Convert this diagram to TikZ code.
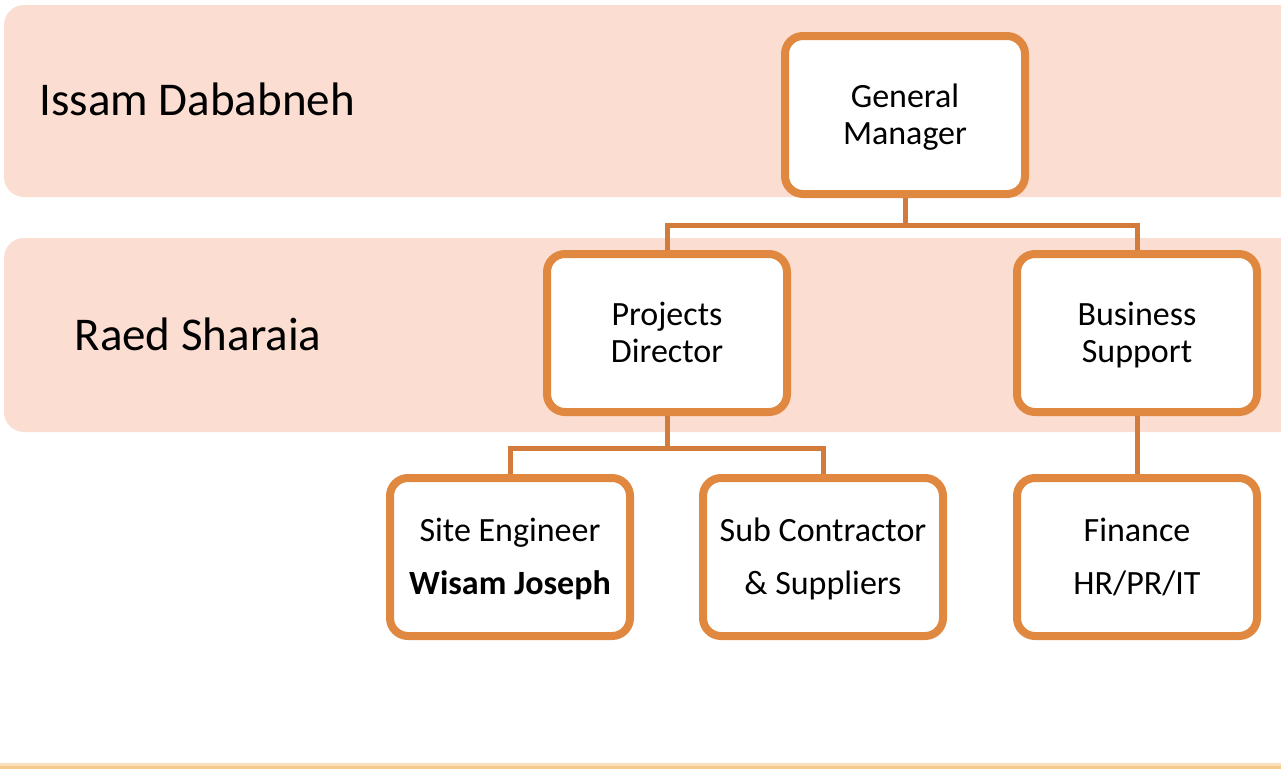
\documentclass[tikz,border=0pt]{standalone}
\usepackage{fontspec}
\setmainfont{Carlito}
\usetikzlibrary{positioning, shadows}
\definecolor{band}{HTML}{FCDDD2}
\definecolor{edge}{HTML}{E0883F}
\definecolor{wire}{HTML}{D27B3A}
\definecolor{rule}{HTML}{F6C98C}
\tikzset{
  role/.style={draw=edge, line width=8pt, fill=white, rounded corners=18pt,
    minimum width=240pt, minimum height=158pt, align=center,
    font=\fontsize{34}{37}\selectfont, text height=59pt, text depth=0pt,
    drop shadow={shadow xshift=2pt, shadow yshift=-3pt, opacity=0.25, fill=black}},
  tall/.style={role, font=\fontsize{34}{53}\selectfont, text height=75pt},
  layer/.style={fill=band, rounded corners=20pt},
  who/.style={anchor=base west, font=\fontsize{47}{50}\selectfont},
  link/.style={draw=wire, line width=5pt},
}

\begin{document}
\begin{tikzpicture}[x=1pt, y=-1pt]
      \useasboundingbox (0,0) rectangle (1281,769);

      % bands
      \fill[layer] (4,5) rectangle (1300,197);
      \fill[layer] (4,238) rectangle (1300,432);
      \fill[rule!60] (0,763) rectangle (1281,766);
      \fill[rule] (0,766) rectangle (1281,769);

      \node[who] (issam) at (36,115) {Issam Dababneh};
      \node[who] (raed)  at (71,350) {Raed Sharaia};

      % boxes
      \node[role] (gm) at (905,115) {General\\Manager};
      \node[role] (pd) at (667,333) {Projects\\Director};
      \node[role] (bs) at (1137,333) {Business\\Support};
      \node[tall] (se) at (510,557) {Site Engineer\\\textbf{Wisam Joseph}};
      \node[tall] (sc) at (823,557) {Sub Contractor\\\&\ Suppliers};
      \node[tall] (fh) at (1137,557) {Finance\\HR/PR/IT};

      % lines
      \draw[link] (gm.south) -- ++(0,27) coordinate (gmbar) -| (pd.north);
      \draw[link] (gmbar) -| (bs.north);
      \draw[link] (pd.south) -- ++(0,32) coordinate (pdbar) -| (se.north);
      \draw[link] (pdbar) -| (sc.north);
      \draw[link] (bs.south) -- (fh.north);
    \end{tikzpicture}
\end{document}
